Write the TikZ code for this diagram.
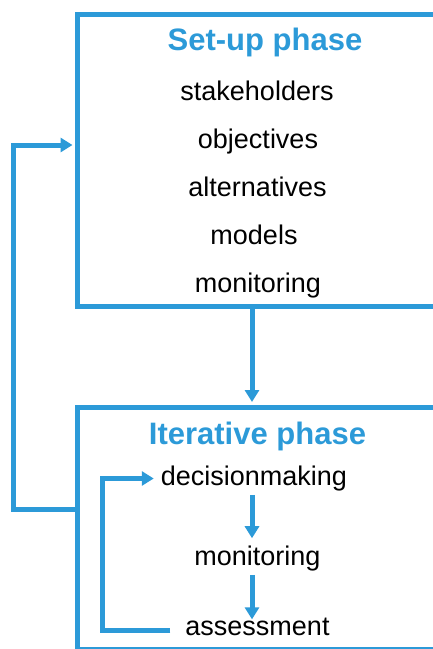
\documentclass[tikz,border=0pt]{standalone}
\usepackage{fontspec}
\setmainfont{Liberation Sans}
\usetikzlibrary{arrows.meta,calc}
\definecolor{phaseblue}{RGB}{44,154,216}
\tikzset{
  phasebox/.style={draw=phaseblue, line width=5pt, rectangle, inner sep=0pt, anchor=north west},
  phasetitle/.style={text=phaseblue, font=\fontsize{31}{36}\selectfont\bfseries, inner sep=0pt, anchor=base},
  item/.style={text=black, font=\fontsize{27}{32}\selectfont, inner sep=0pt, anchor=base},
  flow/.style={draw=phaseblue, line width=5pt, -{Triangle[width=14pt,length=12pt]}}
}
\begin{document}
\begin{tikzpicture}[x=1pt, y=-1pt]
  \useasboundingbox (0,0) rectangle (433,649);

  % Set-up phase box and its contents
  \node[phasebox, minimum width=372pt, minimum height=292pt] (setup) at (75,12) {};
  \node[phasetitle] (st) at (265,50) {Set-up phase};
  \node[item] (s1) at (257,100) {stakeholders};
  \node[item] (s2) at (258,148) {objectives};
  \node[item] (s3) at (257.5,196) {alternatives};
  \node[item] (s4) at (254,244) {models};
  \node[item] (s5) at (258,292) {monitoring};

  % Iterative phase box and its contents
  \node[phasebox, minimum width=372pt, minimum height=242pt] (iter) at (75,405) {};
  \node[phasetitle] (it) at (257.5,444) {Iterative phase};
  \node[item] (dm) at (254,485) {decisionmaking};
  \node[item] (mon) at (257.5,565) {monitoring};
  \node[item] (as) at (257.5,635) {assessment};

  % helper coordinates for the connector routes
  \coordinate (ax) at (252,0);
  \coordinate (fbl) at (13,509);
  \coordinate (fbu) at (13,145);
  \coordinate (ill) at (102,630);
  \coordinate (ilu) at (102,478.5);

  % set-up feeds the iterative phase
  \draw[flow, shorten >=3pt] (setup.south -| ax) -- (iter.north -| ax);

  % feedback from the iterative phase back to set-up
  \draw[flow, shorten >=2.5pt] (iter.west |- fbl) -- (fbl) -- (fbu) -- (setup.west |- fbu);

  % inner cycle
  \draw[flow] ($(dm.south -| ax)+(0,4)$) -- ($(mon.north -| ax)+(0,-7)$);
  \draw[flow] ($(mon.south -| ax)+(0,4)$) -- ($(as.north -| ax)+(0,2)$);
  \draw[flow, shorten <=15pt, shorten >=7pt]
    (as.west |- ill) -- (ill) -- (ilu) -- (dm.west |- ilu);
\end{tikzpicture}
\end{document}
